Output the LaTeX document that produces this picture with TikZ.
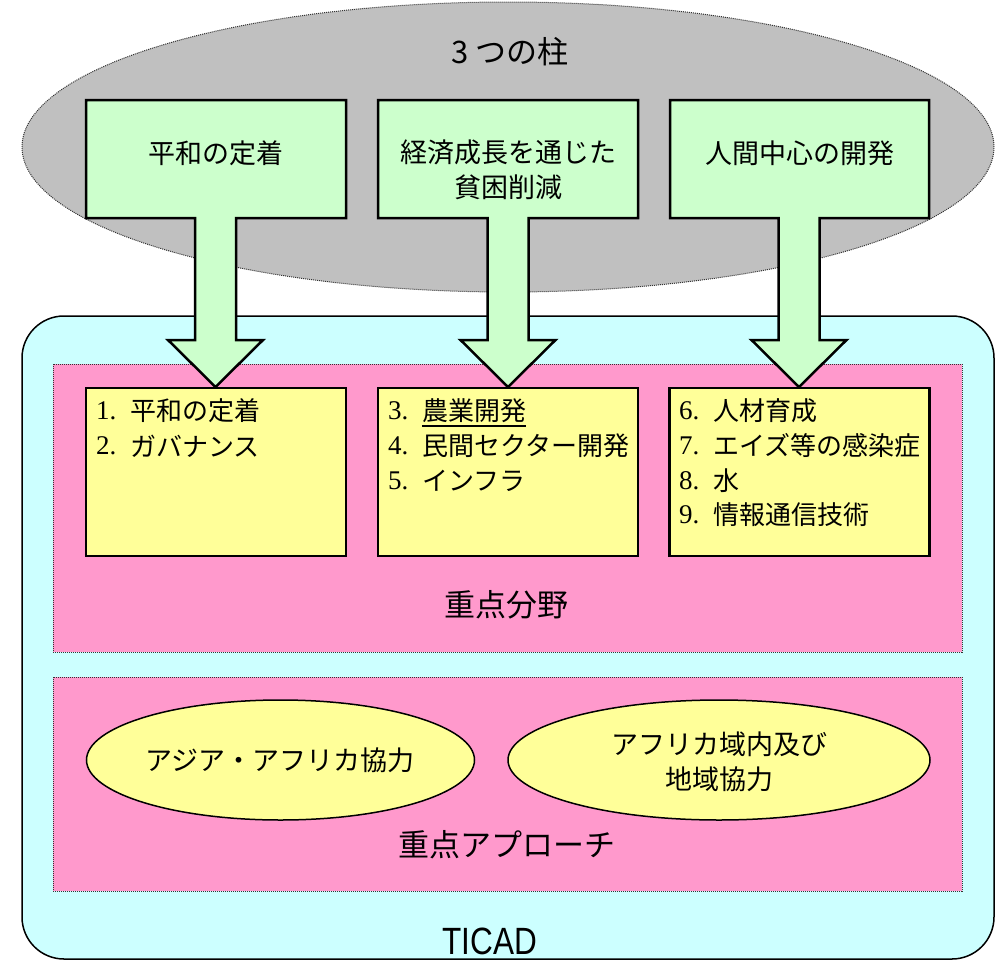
\documentclass[tikz,border=0pt]{standalone}
\usepackage{fontspec}
\setmainfont{Liberation Serif}
\newfontfamily\jp{Noto Sans CJK JP}
\newfontfamily\arialf{Liberation Sans}
\definecolor{pillargray}{HTML}{C0C0C0}
\definecolor{pillargreen}{HTML}{CCFFCC}
\definecolor{ticadcyan}{HTML}{CCFFFF}
\definecolor{areapink}{HTML}{FF99CC}
\definecolor{itemyellow}{HTML}{FFFF99}
\tikzset{
  dotline/.style={dash pattern=on 1pt off 1pt, line width=1pt},
  pillar/.style={draw=black, fill=pillargreen, line width=2.5pt, line join=miter},
  ybox/.style={draw=black, fill=itemyellow, line width=2.5pt, minimum width=260pt, minimum height=168pt, inner sep=0pt},
  pinkbox/.style={draw=black!80, fill=areapink, dotline, inner sep=0pt},
  ptext/.style={font=\jp\fontsize{27}{35}\selectfont, align=center, inner sep=0pt},
  numtext/.style={font=\fontsize{27}{30}\selectfont, anchor=west, inner sep=0pt},
  itemtext/.style={font=\jp\fontsize{26}{30}\selectfont, anchor=west, inner sep=0pt},
  bigtext/.style={font=\jp\fontsize{31}{36}\selectfont, inner sep=0pt},
}
\begin{document}
\begin{tikzpicture}[x=1pt,y=-1pt]
\useasboundingbox (0,0) rectangle (997,962);
% gray ellipse
\draw[fill=pillargray, draw=black!80, dotline] (508,147) ellipse [x radius=486pt, y radius=145pt];
\node[bigtext] (pillars) at (510,52) {3 つの柱};
% TICAD rounded rectangle
\draw[fill=ticadcyan, draw=black, line width=1.5pt, rounded corners=42pt] (22,316) rectangle (994,959);
\node[font=\arialf\fontsize{38}{44}\selectfont, xscale=0.83, inner sep=0pt] (ticad) at (490,941.5) {TICAD};
% pink areas
\draw[pinkbox] (53,364) rectangle (962,652);
\node[bigtext] (areas) at (506,605) {重点分野};
\draw[pinkbox] (53,677) rectangle (962,891);
\node[bigtext] (approach) at (507,845) {重点アプローチ};
% yellow boxes
\node[ybox] (f1) at (216,472) {};
\node[ybox] (f2) at (508,472) {};
\node[ybox] (f3) at (799.5,472) {};
% arrows (pillars)
\foreach \L/\R/\c in {86/346/215.5, 378/638/508, 670/929/799}
  \draw[pillar] (\L,100) -- (\R,100) -- (\R,218) -- (\c+20.5,218) -- (\c+20.5,340) -- (\c+47.5,340) -- (\c,387) -- (\c-47.5,340) -- (\c-20.5,340) -- (\c-20.5,218) -- (\L,218) -- cycle;
\node[ptext] (p1) at (216,153) {平和の定着};
\node[ptext] (p2) at (508,170) {経済成長を通じた\\貧困削減};
\node[ptext] (p3) at (799.5,153) {人間中心の開発};
% items
\node[numtext] (n1) at (96,411) {1.};
\node[itemtext] (t1) at (130,411) {平和の定着};
\node[numtext] (n2) at (96,446) {2.};
\node[itemtext] (t2) at (130,446) {ガバナンス};
\node[numtext] (n3) at (388,411) {3.};
\node[itemtext] (t3) at (422,411) {農業開発};
\draw[line width=1.8pt] (t3.south west) ++(0,3) -- ([yshift=-3pt]t3.south east);
\node[numtext] (n4) at (388,446) {4.};
\node[itemtext] (t4) at (422,446) {民間セクター開発};
\node[numtext] (n5) at (388,481) {5.};
\node[itemtext] (t5) at (422,481) {インフラ};
\node[numtext] (n6) at (679,411) {6.};
\node[itemtext] (t6) at (713,411) {人材育成};
\node[numtext] (n7) at (679,446) {7.};
\node[itemtext] (t7) at (713,446) {エイズ等の感染症};
\node[numtext] (n8) at (679,481) {8.};
\node[itemtext] (t8) at (713,481) {水};
\node[numtext] (n9) at (679,515) {9.};
\node[itemtext] (t9) at (713,515) {情報通信技術};
% approach ellipses
\draw[draw=black, fill=itemyellow, line width=1.5pt] (280.5,760) ellipse [x radius=194pt, y radius=60pt];
\node[ptext] (a1) at (280,760) {アジア・アフリカ協力};
\draw[draw=black, fill=itemyellow, line width=1.5pt] (719,760) ellipse [x radius=211pt, y radius=60pt];
\node[ptext] (a2) at (719,762) {アフリカ域内及び\\地域協力};
\end{tikzpicture}
\end{document}
